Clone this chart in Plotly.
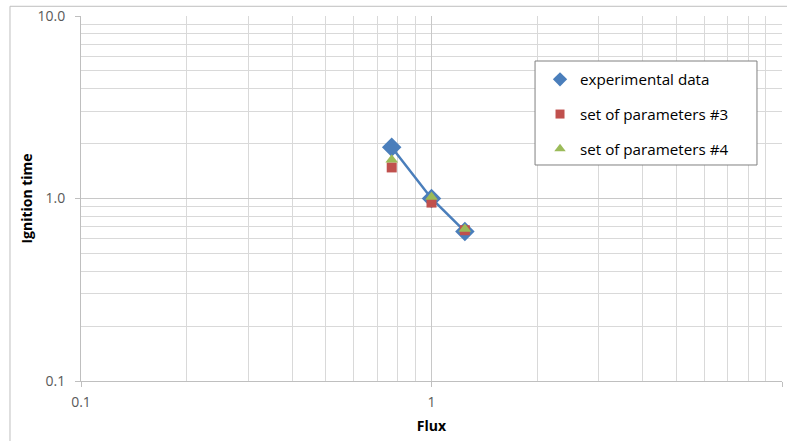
import plotly.graph_objects as go

# Ignition time vs. heat flux, experimental data and two parameter sets
flux = [0.77, 1.0, 1.245]
t_experimental = [1.91, 1.0, 0.66]
t_param3 = [1.48, 0.95, 0.67]
t_param4 = [1.63, 1.02, 0.68]

x_major = [0.1, 1, 10]
x_major_text = ["0.1", "1", "10"]
y_major = [0.1, 1, 10]
y_major_text = ["0.1", "1.0", "10.0"]
minor_vals = [m * d for d in (0.1, 1) for m in range(2, 10)]

series_names = ["experimental data", "set of parameters #3", "set of parameters #4"]

BLUE = "#4A7EBB"
RED = "#C0504D"
GREEN = "#9BBB59"
FONT = "Open Sans"

fig = go.Figure()

# connecting line of the experimental series
fig.add_trace(go.Scatter(
    x=flux, y=t_experimental, mode="lines",
    line=dict(color=BLUE, width=2.5), showlegend=False, hoverinfo="skip",
))

series = [
    (t_experimental, "diamond", 15, BLUE, 11),
    (t_param3, "square", 10, RED, 9),
    (t_param4, "triangle-up", 11, GREEN, 10),
]
for (vals, sym, size, col, lsize), name in zip(series, series_names):
    # data markers
    fig.add_trace(go.Scatter(
        x=flux, y=vals, mode="markers", name=name, showlegend=False,
        marker=dict(symbol=sym, size=size, color=col),
    ))
    # legend swatch with the smaller legend-sized symbol
    fig.add_trace(go.Scatter(
        x=[None], y=[None], mode="markers", name=name, legendgroup=name,
        marker=dict(symbol=sym, size=lsize, color=col), hoverinfo="skip",
    ))

axis_common = dict(
    type="log",
    showline=True, linecolor="#BFBFBF", linewidth=1,
    showgrid=True, gridcolor="#C8C8C8", gridwidth=1,
    ticks="outside", ticklen=5, tickcolor="#BFBFBF",
    tickfont=dict(family=FONT, size=14, color="#595959"),
    zeroline=False, mirror=False,
)

fig.update_xaxes(
    **axis_common,
    range=[-1, 1],
    tickmode="array", tickvals=x_major, ticktext=x_major_text,
    ticklabelstandoff=3,
    minor=dict(tickmode="array", tickvals=minor_vals, showgrid=True,
               gridcolor="#D9D9D9", gridwidth=1, ticks=""),
    title=dict(text="<b>Flux</b>", font=dict(family=FONT, size=14, color="#000000"),
               standoff=11),
)
fig.update_yaxes(
    **axis_common,
    range=[-1, 1],
    tickmode="array", tickvals=y_major, ticktext=y_major_text,
    ticklabelstandoff=7,
    minor=dict(tickmode="array", tickvals=minor_vals, showgrid=True,
               gridcolor="#D9D9D9", gridwidth=1, ticks=""),
    title=dict(text="<b>Ignition time</b>", font=dict(family=FONT, size=14, color="#000000"),
               standoff=1),
)

# outer chart frame (left and top edges)
fig.add_shape(type="line", xref="paper", yref="paper",
              x0=-0.1013, x1=-0.1013, y0=-0.2, y1=1.0266,
              line=dict(color="#BFBFBF", width=1))
fig.add_shape(type="line", xref="paper", yref="paper",
              x0=-0.1013, x1=1.02, y0=1.0266, y1=1.0266,
              line=dict(color="#BFBFBF", width=1))
# legend box
fig.add_shape(type="rect", xref="paper", yref="paper", layer="above",
              x0=0.6477, x1=0.9643, y0=0.5918, y1=0.8767,
              fillcolor="white", line=dict(color="#808080", width=1))

fig.update_layout(
    width=787, height=441,
    margin=dict(l=81, r=5, t=16, b=60, autoexpand=False),
    paper_bgcolor="white", plot_bgcolor="white",
    font=dict(family=FONT, color="#000000"),
    legend=dict(
        x=0.6548, y=0.8715, xanchor="left", yanchor="top",
        bgcolor="rgba(0,0,0,0)", borderwidth=0,
        font=dict(family=FONT, size=15.2, color="#000000"),
        tracegroupgap=12, itemsizing="trace",
    ),
)

fig.write_html("out.html")
